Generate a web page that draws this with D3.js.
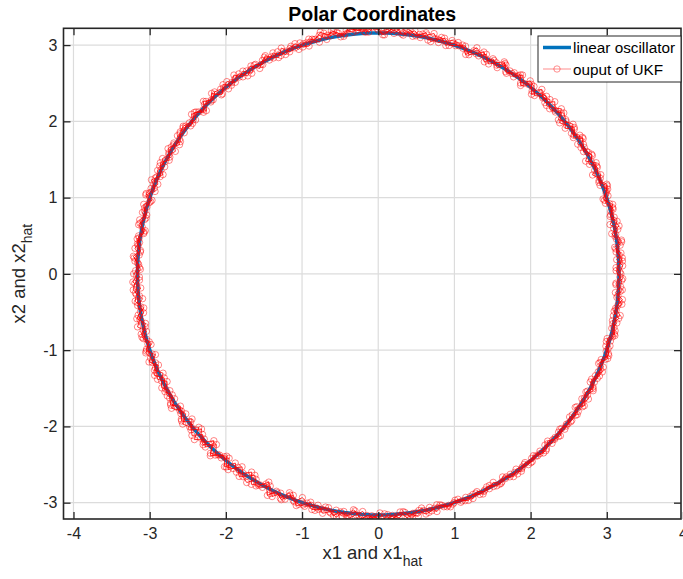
<!DOCTYPE html>
<html><head><meta charset="utf-8">
<script src="https://cdn.jsdelivr.net/npm/d3@7"></script>
<style>
html,body{margin:0;padding:0;background:#fff;}
svg{display:block;font-family:"Liberation Sans",Arial,Helvetica,sans-serif;}
</style></head>
<body>
<svg id="chart" width="683" height="579"></svg>
<script>
// ---- data ----
const titleText = "Polar Coordinates";
const seriesNames = ["linear oscillator", "ouput of UKF"];
const xTicks = [-4, -3, -2, -1, 0, 1, 2, 3, 4];
const yTicks = [-3, -2, -1, 0, 1, 2, 3];
const xDomain = [-4.131, 3.974];
const yDomain = [-3.214, 3.22];
// true oscillator radius (sqrt(x1^2+x2^2))
const oscRadius = 3.16;
const oscStepDeg = 2;
// UKF output: radial error (in units of 0.0125), 1.5 deg per sample, three laps
const ukfErrUnit = 0.0125;
const ukfStepDeg = 1.5;
const ukfLapOffsetDeg = [0, 0.75, 0.4];
const ukfErrLap1 = [
  2,-3,4,1,-2,5,-1,3,-4,2,0,4,-3,1,5,-2,3,-1,4,-5,2,1,-3,4,
  -2,5,1,-4,6,0,-3,4,2,-5,3,-1,5,-2,1,4,-3,2,-1,5,0,-4,3,1,
  2,-3,4,1,-2,3,0,5,-1,2,4,-2,3,6,1,7,2,5,-1,6,3,8,2,4,
  1,-3,3,0,-2,4,-1,2,-4,3,1,-2,5,0,-3,2,4,-1,3,-4,1,5,-2,2,
  -1,3,-4,2,1,-3,4,0,-2,5,-1,2,-3,4,1,-2,3,-4,2,0,4,-1,3,-2,
  4,-2,1,3,-4,2,0,5,-3,1,4,-2,3,-1,5,-3,2,4,-4,1,3,-2,6,0,
  -3,6,2,-5,7,-1,4,-6,3,1,-4,6,-2,5,0,-5,4,2,-3,6,-1,3,-4,5,
  2,-3,4,1,-2,5,0,3,-4,2,6,1,4,-1,5,2,-2,4,1,-3,3,0,-2,2,
  1,-2,2,0,-1,3,-2,1,2,-3,1,0,3,-1,2,-2,1,3,-1,0,2,-2,1,2,
  -1,2,3,-2,1,4,-3,2,0,3,-2,4,1,-3,2,3,-1,4,-2,1,5,-3,2,3
];
const ukfErrLap2 = [
  -3,1,4,-2,3,0,-4,5,1,-1,3,-3,2,4,-2,1,-5,3,0,4,-2,2,5,-1,
  4,-1,-5,3,0,6,-2,1,-4,3,5,-3,2,0,-2,6,1,-4,4,-1,2,-5,3,0,
  -2,4,1,-3,5,2,-1,3,6,0,4,2,7,1,5,3,8,-1,4,2,6,-2,3,1,
  3,0,-2,5,-3,1,4,-1,2,-4,3,0,-2,4,1,-3,5,-1,2,-3,4,0,-2,3,
  2,-3,1,4,-2,0,3,-4,2,1,-3,5,-1,2,-2,4,0,-3,3,1,-2,4,-1,2,
  -2,3,5,-1,2,-4,3,1,-2,4,0,-3,5,2,-1,3,-4,1,4,-2,2,5,-3,1,
  5,-2,3,-6,1,4,-3,7,0,-4,5,2,-5,3,6,-2,1,-6,4,0,5,-3,2,-5,
  -1,4,2,-2,3,6,-1,5,1,-3,4,2,7,0,3,-2,5,1,-1,4,2,-3,1,3,
  -2,1,3,-1,2,0,-2,2,1,-1,3,-2,0,2,-1,1,3,-2,2,0,-1,2,1,-2,
  3,-2,1,4,-1,2,-3,3,1,-2,4,0,2,-3,3,1,-2,5,-1,2,0,4,-3,1
];
const ukfErrLap3 = [
  1,4,-2,3,-3,5,0,-1,4,-2,3,1,-4,2,5,-1,0,3,-3,4,1,-2,5,-3,
  3,-4,2,5,-1,-3,4,0,6,-2,1,-5,4,2,-3,5,-1,3,-4,2,6,-2,0,4,
  4,1,-2,6,3,-1,5,2,0,7,3,-2,5,8,2,4,6,1,3,7,-1,5,2,-3,
  -2,4,1,-3,3,-1,5,-2,2,0,-4,3,1,-2,4,-3,2,0,5,-1,3,-2,1,4,
  3,-1,2,-4,0,4,-2,3,1,-3,2,5,-2,0,3,-1,4,-3,1,2,-2,5,0,-3,
  1,5,-3,2,4,-1,-3,2,6,-2,3,0,4,-4,2,1,5,-3,0,3,-2,4,1,-1,
  4,-5,1,6,-3,2,-7,5,1,-2,6,-4,3,0,-6,5,2,-3,7,-1,4,-5,1,3,
  3,0,-2,5,2,-1,4,3,-3,5,1,3,-2,6,1,4,-1,2,5,0,-2,4,-1,1,
  0,2,-1,3,-2,1,1,-3,2,0,-1,3,1,-2,2,0,-1,2,-3,1,3,-1,0,2,
  2,-3,4,0,-2,3,1,-1,4,-3,2,3,-2,1,4,-1,3,-2,0,5,-1,2,-3,4
];

// ---- build series ----
const rad = d => d * Math.PI / 180;
const oscData = d3.range(0, 360 + oscStepDeg, oscStepDeg).map(a => ({x: oscRadius * Math.cos(rad(a)), y: oscRadius * Math.sin(rad(a))}));
const ukfData = [];
[ukfErrLap1, ukfErrLap2, ukfErrLap3].forEach((lap, k) => {
  lap.forEach((e, i) => {
    const a = i * ukfStepDeg + ukfLapOffsetDeg[k], r = oscRadius + e * ukfErrUnit;
    ukfData.push({x: r * Math.cos(rad(a)), y: r * Math.sin(rad(a))});
  });
});

// ---- layout ----
const svg = d3.select("#chart");
const L = 63.5, R = 681, T = 28.3, B = 519;
const x = d3.scaleLinear().domain(xDomain).range([L, R]);
const y = d3.scaleLinear().domain(yDomain).range([B, T]);
const axisColor = "#262626";
const fmt = d => String(d);

// grid
const grid = svg.append("g");
grid.selectAll("line.vx").data(xTicks.filter(d => x(d) < R)).join("line")
  .attr("x1", d => x(d)).attr("x2", d => x(d)).attr("y1", T).attr("y2", B)
  .attr("stroke", "#dcdcdc").attr("stroke-width", 1.2);
grid.selectAll("line.hy").data(yTicks).join("line")
  .attr("y1", d => y(d)).attr("y2", d => y(d)).attr("x1", L).attr("x2", R)
  .attr("stroke", "#dcdcdc").attr("stroke-width", 1.2);

// clip
svg.append("clipPath").attr("id", "clip").append("rect")
  .attr("x", L).attr("y", T).attr("width", R - L).attr("height", B - T);
const plot = svg.append("g").attr("clip-path", "url(#clip)");

const line = d3.line().x(d => x(d.x)).y(d => y(d.y));
plot.append("path").datum(oscData).attr("d", line)
  .attr("fill", "none").attr("stroke", "#0072BD").attr("stroke-width", 3.5);
plot.append("path").datum(ukfData).attr("d", line)
  .attr("fill", "none").attr("stroke", "#ff0000").attr("stroke-opacity", 0.9).attr("stroke-width", 0.9);
plot.selectAll("circle.m").data(ukfData).join("circle")
  .attr("cx", d => x(d.x)).attr("cy", d => y(d.y)).attr("r", 3.2)
  .attr("fill", "none").attr("stroke", "#ff0000").attr("stroke-opacity", 0.6).attr("stroke-width", 0.8);

// axes (box with inward ticks)
const tickLen = 7;
const ax = svg.append("g");
ax.append("g").attr("transform", `translate(0,${B})`)
  .call(d3.axisBottom(x).tickValues(xTicks).tickSizeInner(-tickLen).tickSizeOuter(0).tickPadding(9).tickFormat(fmt));
ax.append("g").attr("transform", `translate(0,${T})`)
  .call(d3.axisTop(x).tickValues(xTicks.filter(d => x(d) < R)).tickSizeInner(-tickLen).tickSizeOuter(0).tickFormat(""));
ax.append("g").attr("transform", `translate(${L},0)`)
  .call(d3.axisLeft(y).tickValues(yTicks).tickSizeInner(-tickLen).tickSizeOuter(0).tickPadding(6).tickFormat(fmt));
ax.append("g").attr("transform", `translate(${R},0)`)
  .call(d3.axisRight(y).tickValues(yTicks).tickSizeInner(-tickLen).tickSizeOuter(0).tickFormat(""));
ax.selectAll(".domain").remove();
ax.selectAll(".tick line").attr("stroke", axisColor).attr("stroke-width", 1.3);
ax.selectAll(".tick text").attr("fill", axisColor).attr("font-size", 16)
  .attr("font-family", "'Liberation Sans',Arial,sans-serif");
ax.append("rect").attr("x", L).attr("y", T).attr("width", R - L).attr("height", B - T)
  .attr("fill", "none").attr("stroke", axisColor).attr("stroke-width", 1.6);

// title
svg.append("text").attr("x", (L + R) / 2).attr("y", 21).attr("text-anchor", "middle")
  .attr("font-size", 19.5).attr("font-weight", "bold").attr("fill", "#000").text(titleText);

// axis labels
const xl = svg.append("text").attr("x", (L + R) / 2).attr("y", 559).attr("text-anchor", "middle")
  .attr("font-size", 18.5).attr("fill", axisColor);
xl.append("tspan").text("x1 and x1");
xl.append("tspan").attr("font-size", 14).attr("dy", 7).text("hat");
const yl = svg.append("text").attr("transform", `translate(25,${(T + B) / 2}) rotate(-90)`)
  .attr("text-anchor", "middle").attr("font-size", 18.5).attr("fill", axisColor);
yl.append("tspan").text("x2 and x2");
yl.append("tspan").attr("font-size", 14).attr("dy", 7).text("hat");

// legend
const lg = svg.append("g");
const lgX = 538, lgY = 36, lgW = 143, lgH = 46;
lg.append("rect").attr("x", lgX).attr("y", lgY).attr("width", lgW).attr("height", lgH)
  .attr("fill", "#fff").attr("stroke", axisColor).attr("stroke-width", 1);
const rows = [lgY + 11.5, lgY + 33];
lg.append("line").attr("x1", lgX + 5).attr("x2", lgX + 33).attr("y1", rows[0]).attr("y2", rows[0])
  .attr("stroke", "#0072BD").attr("stroke-width", 3.5);
lg.append("line").attr("x1", lgX + 5).attr("x2", lgX + 33).attr("y1", rows[1]).attr("y2", rows[1])
  .attr("stroke", "#ff0000").attr("stroke-opacity", 0.5).attr("stroke-width", 0.9);
lg.append("circle").attr("cx", lgX + 19).attr("cy", rows[1]).attr("r", 3.2)
  .attr("fill", "none").attr("stroke", "#ff0000").attr("stroke-opacity", 0.55).attr("stroke-width", 0.8);
seriesNames.forEach((n, i) => {
  lg.append("text").attr("x", lgX + 35).attr("y", rows[i] + 5.5).attr("font-size", 15.3)
    .attr("fill", "#000").text(n);
});
</script>
</body></html>
